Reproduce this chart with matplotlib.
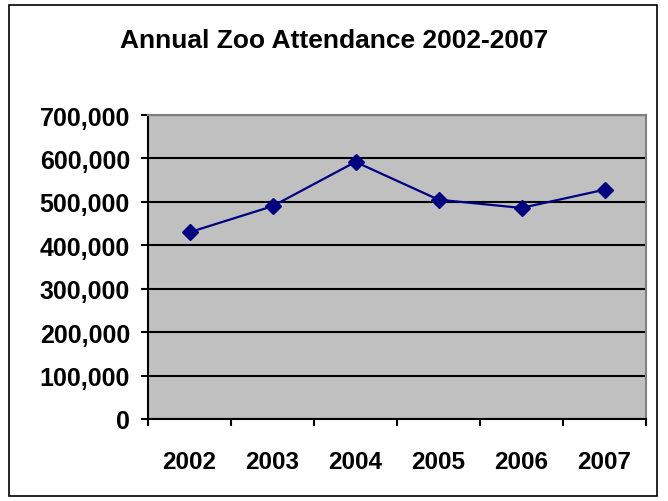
import matplotlib.pyplot as plt
from matplotlib.ticker import FuncFormatter, FixedLocator
from matplotlib.patches import Rectangle

years = ['2002', '2003', '2004', '2005', '2006', '2007']
attendance = [430000, 490000, 592000, 505000, 486000, 528000]

plt.rcParams['font.family'] = ['Liberation Sans', 'DejaVu Sans']
plt.rcParams['font.weight'] = 'bold'

fig = plt.figure(figsize=(6.68, 5.02), dpi=100)
fig.patches.append(Rectangle((9 / 668, 5 / 502), 648 / 668, 491 / 502,
                             transform=fig.transFigure, fill=False,
                             edgecolor='black', linewidth=1.2))

ax = fig.add_axes([148 / 668, 82 / 502, 498 / 668, 304 / 502])
ax.set_facecolor('#c0c0c0')

x = [i + 0.5 for i in range(len(years))]
ax.plot(x, attendance, color='#000080', linewidth=1.6, marker='D',
        markersize=8.5, zorder=3)

ax.set_xlim(0, 6)
ax.set_ylim(0, 700000)
ax.set_yticks(range(0, 700001, 100000))
ax.yaxis.set_major_formatter(FuncFormatter(lambda v, p: f'{int(v):,}'))
ax.grid(axis='y', color='black', linewidth=1.5)
ax.set_axisbelow(True)

ax.xaxis.set_major_locator(FixedLocator(range(7)))
ax.set_xticklabels([])
ax.xaxis.set_minor_locator(FixedLocator(x))
ax.set_xticklabels(years, minor=True)
ax.tick_params(axis='x', which='minor', length=0, pad=22, labelsize=17.5)
ax.tick_params(axis='x', which='major', length=5, width=1.5, direction='out')
ax.tick_params(axis='y', length=5, width=1.5, pad=8, labelsize=18)

for s in ['top', 'right']:
    ax.spines[s].set_color('#808080')
    ax.spines[s].set_linewidth(1.5)
for s in ['left', 'bottom']:
    ax.spines[s].set_color('black')
    ax.spines[s].set_linewidth(1.5)

fig.text(0.5, 1 - 48 / 502, 'Annual Zoo Attendance 2002-2007', ha='center',
         va='baseline', fontsize=19, fontweight='bold')

plt.savefig('out.png', dpi=100)
